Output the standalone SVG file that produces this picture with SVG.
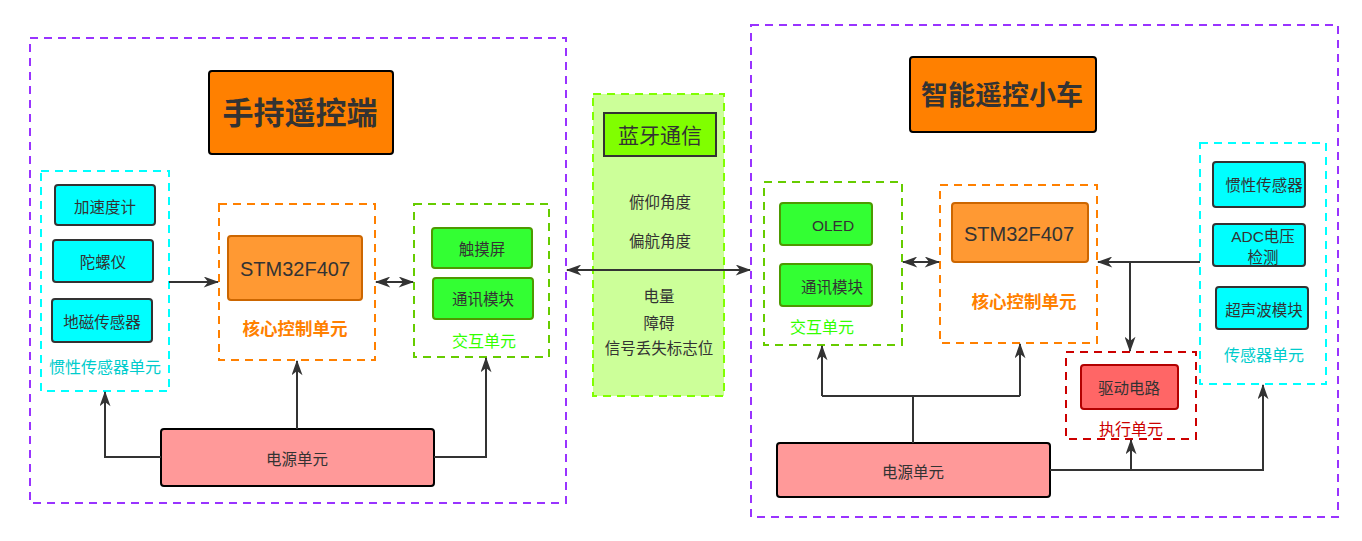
<svg xmlns="http://www.w3.org/2000/svg" width="1362" height="541" viewBox="0 0 1362 541">
<defs>
<marker id="ah2" viewBox="0 0 14 10" refX="13" refY="5" markerWidth="16" markerHeight="11" markerUnits="userSpaceOnUse" orient="auto-start-reverse">
<path d="M0,0 L14,5 L0,10 L4,5 Z" fill="#333"/>
</marker>
</defs>
<style>
text{font-family:"Liberation Sans","Noto Sans CJK SC",sans-serif;text-anchor:middle;dominant-baseline:central;fill:#333}
.outer{fill:none;stroke:#9933FF;stroke-width:2;stroke-dasharray:8 6}
.gcyan{fill:none;stroke:#00FFFF;stroke-width:2;stroke-dasharray:8 6}
.gorange{fill:none;stroke:#FF8000;stroke-width:2;stroke-dasharray:8 6}
.ggreen{fill:none;stroke:#66CC00;stroke-width:2;stroke-dasharray:8 6}
.gred{fill:none;stroke:#CC0000;stroke-width:2;stroke-dasharray:8 6}
.title{fill:#FF8000;stroke:#000;stroke-width:2}
.tt{font-weight:bold}
.cyan{fill:#00FFFF;stroke:#333;stroke-width:2}
.green{fill:#33FF33;stroke:#4D9900;stroke-width:2}
.stm{fill:#FF9933;stroke:#CC6600;stroke-width:2}
.power{fill:#FF9999;stroke:#000;stroke-width:2}
.drive{fill:#FF6666;stroke:#B20000;stroke-width:2}
.n{font-size:15.5px}
.stmt{font-size:20px}
.lcyan{fill:#00CCCC;font-size:16px}
.lorange{fill:#FF8000;font-size:17.5px;font-weight:bold}
.lgreen{fill:#33FF00;font-size:16px}
.lred{fill:#CC0000;font-size:16px}
.c{fill:none;stroke:#333;stroke-width:2}
</style>

<g id="remote">
<rect class="outer" x="30" y="38" width="536" height="465"/>
</g>
<g id="remote-title"><rect class="title" x="209" y="71" width="184" height="83" rx="3"/><text class="tt" x="300" y="113" font-size="31px">手持遥控端</text></g>
<g id="imu-unit"><rect class="gcyan" x="41" y="171" width="128" height="220"/><text class="lcyan" x="105" y="367">惯性传感器单元</text></g>
<g id="acc"><rect class="cyan" x="55" y="185" width="100" height="40" rx="3"/><text class="n" x="105" y="207">加速度计</text></g>
<g id="gyro"><rect class="cyan" x="53" y="240" width="100" height="42" rx="3"/><text class="n" x="103" y="262">陀螺仪</text></g>
<g id="mag"><rect class="cyan" x="52" y="299" width="100" height="43" rx="3"/><text class="n" x="102" y="322">地磁传感器</text></g>
<g id="core-l"><rect class="gorange" x="219" y="204" width="156" height="156"/><text class="lorange" x="295" y="329">核心控制单元</text></g>
<g id="stm-l"><rect class="stm" x="228" y="236" width="134" height="64" rx="3"/><text class="stmt" x="295" y="269">STM32F407</text></g>
<g id="ui-l"><rect class="ggreen" x="414" y="204" width="135" height="153"/><text class="lgreen" x="484" y="341">交互单元</text></g>
<g id="touch"><rect class="green" x="432" y="228" width="100" height="40" rx="3"/><text class="n" x="482" y="249">触摸屏</text></g>
<g id="comm-l"><rect class="green" x="433" y="278" width="100" height="41" rx="3"/><text class="n" x="483" y="299">通讯模块</text></g>
<g id="power-l"><rect class="power" x="161" y="429" width="273" height="57" rx="3"/><text class="n" x="297" y="459">电源单元</text></g>

<g id="bt">
<rect x="593" y="94" width="131" height="302" fill="#CCFF99" stroke="#80FF00" stroke-width="2" stroke-dasharray="8 6"/>
</g>
<g id="bt-title"><rect x="604" y="113" width="112" height="43" fill="#80FF00" stroke="#333" stroke-width="2"/><text x="660" y="135" font-size="21px">蓝牙通信</text></g>
<g id="bt-data">
<text class="n" x="660" y="202">俯仰角度</text>
<text class="n" x="660" y="241">偏航角度</text>
<text class="n" x="659" y="296">电量</text>
<text class="n" x="659" y="323">障碍</text>
<text class="n" x="659" y="348">信号丢失标志位</text>
</g>

<g id="car"><rect class="outer" x="751" y="25" width="587" height="492"/></g>
<g id="car-title"><rect class="title" x="910" y="57" width="186" height="75" rx="3"/><text class="tt" x="1002" y="96" font-size="27px">智能遥控小车</text></g>
<g id="ui-r"><rect class="ggreen" x="764" y="182" width="138" height="163"/><text class="lgreen" x="822" y="327">交互单元</text></g>
<g id="oled"><rect class="green" x="780" y="203" width="92" height="42" rx="3"/><text class="n" x="833" y="225">OLED</text></g>
<g id="comm-r"><rect class="green" x="780" y="264" width="92" height="42" rx="3"/><text class="n" x="832" y="287">通讯模块</text></g>
<g id="core-r"><rect class="gorange" x="940" y="185" width="157" height="158"/><text class="lorange" x="1024" y="302">核心控制单元</text></g>
<g id="stm-r"><rect class="stm" x="952" y="203" width="136" height="59" rx="3"/><text class="stmt" x="1019" y="234">STM32F407</text></g>
<g id="sensor-unit"><rect class="gcyan" x="1200" y="143" width="126" height="241"/><text class="lcyan" x="1264" y="355">传感器单元</text></g>
<g id="imu-r"><rect class="cyan" x="1213" y="162" width="92" height="45" rx="3"/><text class="n" x="1264" y="185">惯性传感器</text></g>
<g id="adc"><rect class="cyan" x="1213" y="224" width="92" height="42" rx="3"/><text class="n" x="1263" y="236">ADC电压</text><text class="n" x="1263" y="257">检测</text></g>
<g id="ultra"><rect class="cyan" x="1216" y="287" width="92" height="42" rx="3"/><text class="n" x="1264" y="310">超声波模块</text></g>
<g id="exec"><rect class="gred" x="1066" y="352" width="130" height="87"/><text class="lred" x="1131" y="429">执行单元</text></g>
<g id="drive"><rect class="drive" x="1081" y="365" width="97" height="44" rx="3"/><text class="n" x="1129" y="388">驱动电路</text></g>
<g id="power-r"><rect class="power" x="777" y="443" width="273" height="54" rx="3"/><text class="n" x="913" y="472">电源单元</text></g>

<g id="connectors">
<path class="c" d="M169,282 L218,282" marker-end="url(#ah2)"/>
<path class="c" d="M376,282 L413,282" marker-start="url(#ah2)" marker-end="url(#ah2)"/>
<path class="c" d="M161,457 L105,457 L105,392" marker-end="url(#ah2)"/>
<path class="c" d="M297,429 L297,361" marker-end="url(#ah2)"/>
<path class="c" d="M434,457 L486,457 L486,358" marker-end="url(#ah2)"/>
<path class="c" d="M567,270 L750,270" marker-start="url(#ah2)" marker-end="url(#ah2)"/>
<path class="c" d="M903,262 L939,262" marker-start="url(#ah2)" marker-end="url(#ah2)"/>
<path class="c" d="M1200,262 L1098,262" marker-end="url(#ah2)"/>
<path class="c" d="M1130,262 L1130,351" marker-end="url(#ah2)"/>
<path class="c" d="M913,443 L913,396 M822,396 L1020,396"/>
<path class="c" d="M822,396 L822,346" marker-end="url(#ah2)"/>
<path class="c" d="M1020,396 L1020,344" marker-end="url(#ah2)"/>
<path class="c" d="M1050,470 L1263,470 L1263,385" marker-end="url(#ah2)"/>
<path class="c" d="M1131,470 L1131,440" marker-end="url(#ah2)"/>
</g>
</svg>
